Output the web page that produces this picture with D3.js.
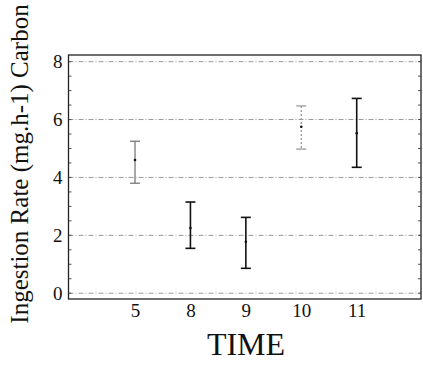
<!DOCTYPE html>
<html>
<head>
<meta charset="utf-8">
<script src="https://cdn.jsdelivr.net/npm/d3@7.9.0/dist/d3.min.js"></script>
<style>
  body { margin: 0; background: #fff; }
  svg { display: block; }
  svg text { font-family: "Liberation Serif", "DejaVu Serif", serif; fill: #111; }
  .tick text { font-size: 19px; }
</style>
</head>
<body>
<svg id="chart" width="423" height="365"></svg>
<script>
// data
const times = ['5', '8', '9', '10', '11'];
const means = [4.6, 2.25, 1.78, 5.75, 5.53];
const upper = [5.25, 3.15, 2.62, 6.47, 6.73];
const lower = [3.8, 1.55, 0.86, 4.98, 4.35];
const yTicks = [0, 2, 4, 6, 8];

const svg = d3.select('#chart');
const box = { left: 68.5, right: 421, top: 55, bottom: 299 };

const x = d3.scaleLinear().domain([-1.2, 5.16]).range([box.left, box.right]);
const y = d3.scaleLinear().domain([-0.2, 8.23]).range([box.bottom, box.top]);

// faint (photocopied) bars
const faint = { '5': '#777', '10': '#999' };

// grid lines
svg.append('g')
  .selectAll('line')
  .data(yTicks)
  .join('line')
  .attr('x1', box.left).attr('x2', box.right)
  .attr('y1', d => y(d)).attr('y2', d => y(d))
  .attr('stroke', '#999')
  .attr('stroke-width', 1)
  .attr('stroke-dasharray', '5,2,1,2');

// minor ticks on left and right sides
const minor = d3.range(0, 8.01, 0.5);
svg.append('g')
  .selectAll('line')
  .data(minor)
  .join('line')
  .attr('x1', box.left).attr('x2', box.left + 3)
  .attr('y1', d => y(d)).attr('y2', d => y(d))
  .attr('stroke', '#555');
svg.append('g')
  .selectAll('line')
  .data(minor)
  .join('line')
  .attr('x1', box.right - 3).attr('x2', box.right)
  .attr('y1', d => y(d)).attr('y2', d => y(d))
  .attr('stroke', '#555');

// frame
svg.append('rect')
  .attr('x', box.left).attr('y', box.top)
  .attr('width', box.right - box.left).attr('height', box.bottom - box.top)
  .attr('fill', 'none')
  .attr('stroke', '#222')
  .attr('stroke-width', 1.3);

// y axis labels
const yAxis = d3.axisLeft(y).tickValues(yTicks).tickSize(0).tickPadding(6);
svg.append('g')
  .attr('transform', `translate(${box.left},0)`)
  .call(yAxis)
  .attr('font-family', null)
  .attr('font-size', null)
  .call(g => g.select('.domain').remove());

// x axis labels
const xAxis = d3.axisBottom(x)
  .tickValues(d3.range(times.length))
  .tickFormat(i => times[i])
  .tickSize(0).tickPadding(5);
svg.append('g')
  .attr('transform', `translate(0,${box.bottom})`)
  .call(xAxis)
  .attr('font-family', null)
  .attr('font-size', null)
  .call(g => g.select('.domain').remove());

// error bars
const bars = svg.append('g')
  .selectAll('g')
  .data(times.map((t, i) => ({ t, i, m: means[i], hi: upper[i], lo: lower[i] })))
  .join('g')
  .attr('stroke', d => faint[d.t] || '#111')
  .attr('stroke-width', d => faint[d.t] ? 1.3 : 1.6);

bars.append('line')
  .attr('x1', d => x(d.i)).attr('x2', d => x(d.i))
  .attr('y1', d => y(d.hi)).attr('y2', d => y(d.lo))
  .attr('stroke-dasharray', d => d.t === '10' ? '2,2' : null);
bars.append('line')
  .attr('x1', d => x(d.i) - 5).attr('x2', d => x(d.i) + 5)
  .attr('y1', d => y(d.hi)).attr('y2', d => y(d.hi));
bars.append('line')
  .attr('x1', d => x(d.i) - 5).attr('x2', d => x(d.i) + 5)
  .attr('y1', d => y(d.lo)).attr('y2', d => y(d.lo));
bars.append('circle')
  .attr('cx', d => x(d.i)).attr('cy', d => y(d.m))
  .attr('r', 1.3)
  .attr('fill', '#111').attr('stroke', 'none');

// axis titles
svg.append('text')
  .attr('x', 246).attr('y', 355)
  .attr('text-anchor', 'middle')
  .style('font-size', '32px')
  .text('TIME');

svg.append('text')
  .attr('transform', 'translate(28,164) rotate(-90)')
  .attr('text-anchor', 'middle')
  .style('font-size', '25px')
  .text('Ingestion Rate (mg.h-1) Carbon');
</script>
</body>
</html>
